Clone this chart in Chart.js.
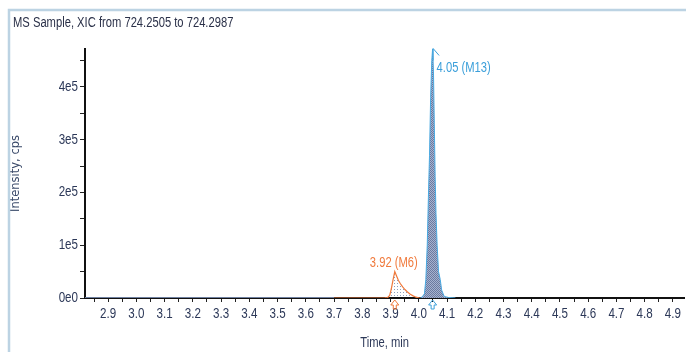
<!DOCTYPE html>
<html>
<head>
<meta charset="utf-8">
<script src="https://cdn.jsdelivr.net/npm/chart.js@4/dist/chart.umd.min.js"></script>
<style>
  html, body { margin: 0; padding: 0; background: #fff; }
  #wrap { position: relative; width: 686px; height: 352px; }
</style>
</head>
<body>
<div id="wrap"><canvas id="xic" width="686" height="352"></canvas></div>
<script>
// chart data (time in min, intensity in cps)
const chartTitle = 'MS Sample, XIC from 724.2505 to 724.2987'
const baseTime = [2.818, 3.70]
const baseIntensity = [0, 0]
const m6Time = [3.700, 3.880, 3.890, 3.897, 3.903, 3.909, 3.915, 3.921, 3.928, 3.935, 3.943, 3.951, 3.960, 3.970, 3.980, 3.990, 4.000, 4.005]
const m6Intensity = [0, 200, 1000, 5000, 18000, 35000, 50000, 42000, 33000, 27000, 21000, 16000, 11500, 7000, 4000, 1500, 300, 0]
const m13Time = [4.005, 4.012, 4.020, 4.025, 4.030, 4.034, 4.038, 4.042, 4.046, 4.049, 4.052, 4.055, 4.058, 4.061, 4.065, 4.070, 4.076, 4.081, 4.090, 4.105, 4.130]
const m13Intensity = [0, 2000, 8000, 35000, 100000, 190000, 270000, 380000, 450000, 473000, 430000, 330000, 230000, 160000, 100000, 50000, 35000, 15000, 3000, 1000, 0]
const peakNames = ['3.92 (M6)', '4.05 (M13)']
const peakTimes = [3.915, 4.049]
const peakHeights = [50000, 473000]
const peakColors = ['#f07a3c', '#3b9fda']
const yTicks = [0, 50000, 100000, 150000, 200000, 250000, 300000, 350000, 400000, 450000]

const narrow = "'Liberation Sans', Arial, sans-serif"
const textColor = '#2c3858'
const squeeze = 0.8 // the original uses a condensed face

function pts(xs, ys) {
  return xs.map((x, i) => ({ x: x, y: ys[i] }))
}

function makePattern(bg, dot, size, dots) {
  const c = document.createElement('canvas')
  c.width = size
  c.height = size
  const g = c.getContext('2d')
  g.fillStyle = bg
  g.fillRect(0, 0, size, size)
  g.fillStyle = dot
  dots.forEach(d => g.fillRect(d[0], d[1], 1, 1))
  return g.createPattern(c, 'repeat')
}

const blueFill = makePattern('#a6b2cf', '#6b7aa0', 2, [[0, 0], [1, 1]])
const orangeFill = makePattern('rgba(255,255,255,0)', '#8d9dbc', 3, [[1, 1]])

// narrow down Liberation Sans text around its anchor point
const condensed = {
  id: 'condensed',
  beforeInit(chart) {
    const c = chart.ctx
    const orig = c.fillText
    c.fillText = function (t, x, y, mw) {
      if (this.font.indexOf('Liberation') < 0) return orig.call(this, t, x, y, mw)
      this.save()
      this.translate(x, y)
      this.scale(squeeze, 1)
      orig.call(this, t, 0, 0)
      this.restore()
    }
  }
}

const decorations = {
  id: 'decorations',
  afterDraw(chart) {
    const ctx = chart.ctx
    const xs = chart.scales.x
    const ys = chart.scales.y
    ctx.save()
    // frame
    ctx.strokeStyle = '#bcd3e3'
    ctx.lineWidth = 2.5
    ctx.beginPath()
    ctx.moveTo(9, 352)
    ctx.lineTo(9, 10)
    ctx.lineTo(686, 10)
    ctx.stroke()
    // title
    ctx.fillStyle = '#2a3048'
    ctx.font = '14px ' + narrow
    ctx.textAlign = 'left'
    ctx.textBaseline = 'alphabetic'
    ctx.fillText(chartTitle, 13, 26.5)

    peakNames.forEach((name, i) => {
      const px = xs.getPixelForValue(peakTimes[i])
      const py = ys.getPixelForValue(peakHeights[i])
      const col = peakColors[i]
      ctx.fillStyle = col
      ctx.strokeStyle = col
      ctx.font = '14px ' + narrow
      ctx.lineWidth = 1
      if (i === 0) {
        ctx.textAlign = 'center'
        ctx.fillText(name, px - 1, py - 4.5)
      } else {
        ctx.textAlign = 'left'
        ctx.fillText(name, px + 4, py + 24)
        ctx.beginPath()
        ctx.moveTo(px + 0.5, py + 12)
        ctx.lineTo(px + 0.5, py)
        ctx.lineTo(px + 6.5, py + 7)
        ctx.stroke()
      }
      // apex marker below axis
      const top = ys.bottom + 2
      ctx.beginPath()
      ctx.moveTo(px, top)
      ctx.lineTo(px + 4, top + 5)
      ctx.lineTo(px + 1.5, top + 5)
      ctx.lineTo(px + 1.5, top + 9)
      ctx.lineTo(px - 1.5, top + 9)
      ctx.lineTo(px - 1.5, top + 5)
      ctx.lineTo(px - 4, top + 5)
      ctx.closePath()
      ctx.stroke()
    })
    ctx.restore()
  }
}

const ctx = document.getElementById('xic').getContext('2d')

new Chart(ctx, {
  type: 'line',
  data: {
    datasets: [
      {
        data: pts(baseTime, baseIntensity),
        borderColor: '#8ea4cf',
        borderWidth: 1.5,
        pointRadius: 0,
        fill: false
      },
      {
        data: pts(m6Time, m6Intensity),
        borderColor: peakColors[0],
        backgroundColor: orangeFill,
        borderWidth: 1.2,
        pointRadius: 0,
        fill: 'origin'
      },
      {
        data: pts(m13Time, m13Intensity),
        borderColor: '#4aaae2',
        backgroundColor: blueFill,
        borderWidth: 1,
        pointRadius: 0,
        fill: 'origin'
      }
    ]
  },
  options: {
    responsive: false,
    animation: false,
    layout: { padding: { left: 9, top: 49, right: 0, bottom: 0 } },
    plugins: {
      legend: { display: false },
      tooltip: { enabled: false }
    },
    elements: { line: { tension: 0 } },
    scales: {
      x: {
        type: 'linear',
        min: 2.818,
        max: 4.94,
        afterFit: s => { s.height = 54 },
        border: { color: '#111', width: 2 },
        grid: { drawOnChartArea: false, tickLength: 4, tickColor: '#222' },
        ticks: {
          stepSize: 0.05,
          includeBounds: false,
          maxRotation: 0,
          autoSkip: false,
          padding: 3,
          color: textColor,
          font: { family: narrow, size: 14.5 },
          callback: v => Math.abs(v * 10 - Math.round(v * 10)) < 1e-6 ? v.toFixed(1) : ''
        },
        title: {
          display: true,
          text: 'Time, min',
          color: textColor,
          font: { family: narrow, size: 14 },
          padding: { top: 4, bottom: 0 }
        }
      },
      y: {
        type: 'linear',
        min: 0,
        max: 472000,
        afterBuildTicks: s => { s.ticks = yTicks.map(v => ({ value: v })) },
        afterFit: s => { s.width = 76 },
        border: { color: '#111', width: 2 },
        grid: { drawOnChartArea: false, tickLength: 5, tickColor: '#222' },
        ticks: {
          autoSkip: false,
          padding: 2,
          color: textColor,
          font: { family: narrow, size: 14.5 },
          callback: v => {
            const r = Math.round(v)
            if (r % 100000 !== 0) return ''
            return r === 0 ? '0e0' : (r / 100000) + 'e5'
          }
        },
        title: {
          display: true,
          text: 'Intensity, cps',
          color: '#3a4a6a',
          font: { family: "'DejaVu Sans', sans-serif", size: 11.5 },
          padding: { top: 0, bottom: 2 }
        }
      }
    }
  },
  plugins: [condensed, decorations]
})
</script>
</body>
</html>
